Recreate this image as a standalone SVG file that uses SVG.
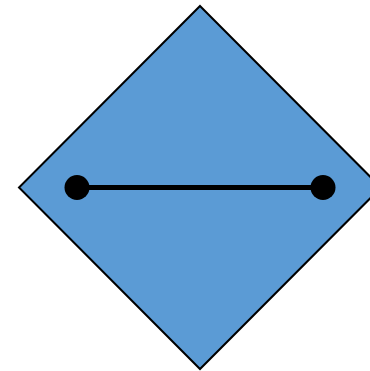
<svg xmlns="http://www.w3.org/2000/svg" width="370" height="371" viewBox="0 0 370 371">
<style>
.shape{fill:#5b9bd5;stroke:#000;stroke-width:2}
.conn{stroke:#000;stroke-width:5;fill:none}
.dot{fill:#000}
</style>
<g id="diamond">
<polygon class="shape" points="200,6 381,187.5 200,369 19,187.5"/>
</g>
<g id="connectors">
<line class="conn" x1="77" y1="187.5" x2="323" y2="187.5"/>
</g>
<g id="endpoint-left"><circle class="dot" cx="77" cy="187.5" r="12.5"/></g>
<g id="endpoint-right"><circle class="dot" cx="323" cy="187.5" r="12.5"/></g>
</svg>
